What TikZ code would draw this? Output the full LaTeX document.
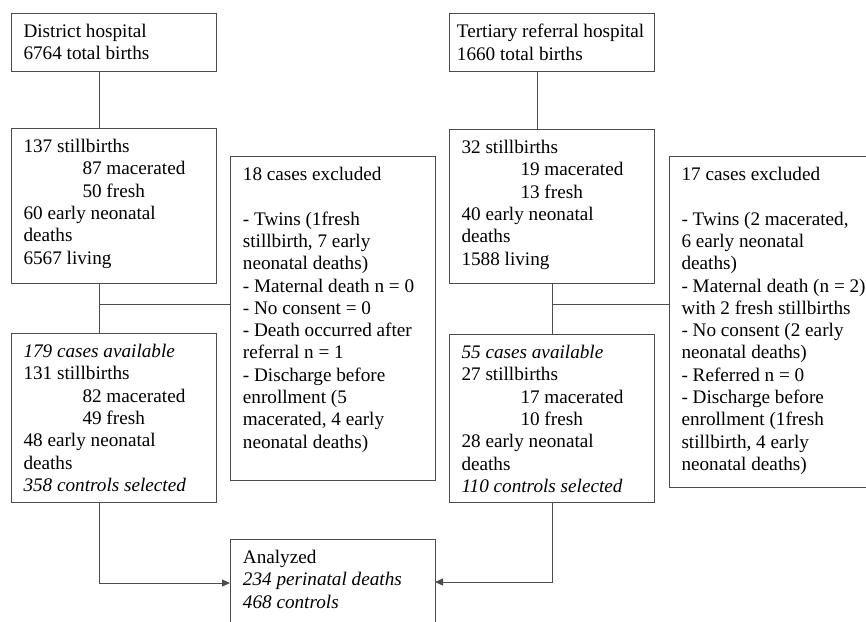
\documentclass[tikz,border=0pt]{standalone}
\usepackage{fontspec}
\setmainfont{Liberation Serif}
\usetikzlibrary{arrows.meta}
\newcommand{\indsub}{\hspace*{59pt}}
\begin{document}
\begin{tikzpicture}[x=1pt,y=-1pt,
	frame/.style={draw=black!70,line width=1pt,anchor=north west,inner sep=0,outer sep=0,minimum width=205pt},
	txt/.style={anchor=north west,align=left,inner sep=0,font=\fontsize{19.2}{22.3}\selectfont},
	link/.style={draw=black!70,line width=1pt},
	tip/.style={-{Triangle[length=8pt,width=7pt]}}]
\useasboundingbox (0,0) rectangle (866,621);
% left column
\node[frame,minimum height=58pt] (dist) at (11,13) {};
\node[txt] (dist-t) at ([shift={(12.3,11)}]dist.north west) {District hospital\\6764 total births};
\node[frame,minimum height=155pt] (dstat) at (11,128) {};
\node[txt] (dstat-t) at ([shift={(12.3,11)}]dstat.north west) {137 stillbirths\\\indsub 87 macerated\\\indsub 50 fresh\\60 early neonatal\\deaths\\6567 living};
\node[frame,minimum height=324pt] (dexcl) at (230,156) {};
\node[txt] (dexcl-t) at ([shift={(12.7,11)}]dexcl.north west) {18 cases excluded\\ \\- Twins (1fresh\\stillbirth, 7 early\\neonatal deaths)\\- Maternal death n = 0\\- No consent = 0\\- Death occurred after\\referral n = 1\\- Discharge before\\enrollment (5\\macerated, 4 early\\neonatal deaths)};
\node[frame,minimum height=169pt] (davail) at (11,333) {};
\node[txt] (davail-t) at ([shift={(12.3,11)}]davail.north west) {\textit{179 cases available}\\131 stillbirths\\\indsub 82 macerated\\\indsub 49 fresh\\48 early neonatal\\deaths\\\textit{358 controls selected}};
% right column
\node[frame,minimum height=58pt] (tert) at (449,13) {};
\node[txt] (tert-t) at ([shift={(7.7,11)}]tert.north west) {Tertiary referral hospital\\1660 total births};
\node[frame,minimum height=154pt] (tstat) at (449,129) {};
\node[txt] (tstat-t) at ([shift={(12.3,11)}]tstat.north west) {32 stillbirths\\\indsub 19 macerated\\\indsub 13 fresh\\40 early neonatal\\deaths\\1588 living};
\node[frame,minimum height=331pt] (texcl) at (669,156) {};
\node[txt] (texcl-t) at ([shift={(12.3,11)}]texcl.north west) {17 cases excluded\\ \\- Twins (2 macerated,\\6 early neonatal\\deaths)\\- Maternal death (n = 2)\\with 2 fresh stillbirths\\- No consent (2 early\\neonatal deaths)\\- Referred n = 0\\- Discharge before\\enrollment (1fresh\\stillbirth, 4 early\\neonatal deaths)};
\node[frame,minimum height=168pt] (tavail) at (449,334) {};
\node[txt] (tavail-t) at ([shift={(12.3,11)}]tavail.north west) {\textit{55 cases available}\\27 stillbirths\\\indsub 17 macerated\\\indsub 10 fresh\\28 early neonatal\\deaths\\\textit{110 controls selected}};
% bottom
\node[frame,minimum height=88pt] (ana) at (230,539) {};
\node[txt] (ana-t) at ([shift={(12.7,11)}]ana.north west) {Analyzed\\\textit{234 perinatal deaths}\\\textit{468 controls}};
% connectors
\coordinate (ltrunk) at (99,304);
\coordinate (lbend) at (99,583);
\coordinate (rtop) at (537,100);
\coordinate (rtrunk) at (552,304);
\coordinate (rbend) at (552,582);
\draw[link] (dist.south -| ltrunk) -- (dstat.north -| ltrunk);
\draw[link] (dstat.south -| ltrunk) -- (davail.north -| ltrunk);
\draw[link] (ltrunk) -- (ltrunk -| dexcl.west);
\draw[link,tip] (davail.south -| lbend) -- (lbend) -- (lbend -| ana.west);
\draw[link] (tert.south -| rtop) -- (tstat.north -| rtop);
\draw[link] (tstat.south -| rtrunk) -- (tavail.north -| rtrunk);
\draw[link] (rtrunk) -- (rtrunk -| texcl.west);
\draw[link,tip] (tavail.south -| rbend) -- (rbend) -- (rbend -| ana.east);
\end{tikzpicture}
\end{document}
